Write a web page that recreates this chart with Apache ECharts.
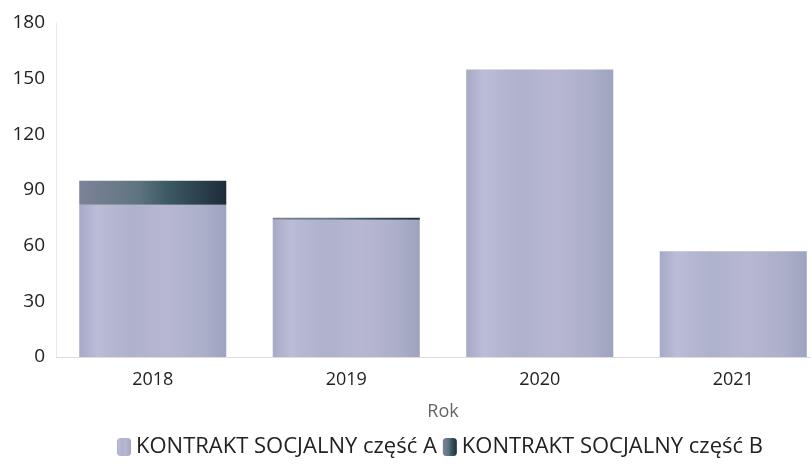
<!DOCTYPE html>
<html>
<head>
<meta charset="utf-8">
<script src="https://cdn.jsdelivr.net/npm/echarts@6/dist/echarts.min.js"></script>
<style>
  html, body { margin: 0; padding: 0; background: #fff; }
  #chart { width: 811px; height: 470px; }
</style>
</head>
<body>
<div id="chart"></div>
<script>
// dane z wykresu
var years = ['2018', '2019', '2020', '2021'];
var partA = [82, 74, 155, 57];
var partB = [13, 1, 0, 0];
var yTicks = { min: 0, max: 180, interval: 30 };

var chart = echarts.init(document.getElementById('chart'));

// pasek A - jasny lawendowy, lekko pasiasty
var colorA = new echarts.graphic.LinearGradient(0, 0, 1, 0, [
    { offset: 0, color: '#a7aac6' },
    { offset: 0.12, color: '#bbbcd7' },
    { offset: 0.35, color: '#aeb2cb' },
    { offset: 0.6, color: '#b8b7d2' },
    { offset: 0.85, color: '#abafc8' },
    { offset: 1, color: '#9ea3bf' }
]);
// pasek B - ciemny morski
var colorB = new echarts.graphic.LinearGradient(0, 0, 1, 0, [
    { offset: 0, color: '#7d8398' },
    { offset: 0.4, color: '#5f7480' },
    { offset: 0.6, color: '#3c5a64' },
    { offset: 1, color: '#1f2b3a' }
]);

var option = {
    animation: false,
    grid: { left: 56, width: 774, top: 23, bottom: 113, outerBoundsMode: 'none' },
    legend: {
        top: 431,
        left: 112,
        itemWidth: 14,
        itemHeight: 18,
        itemGap: 6,
        textStyle: { fontSize: 22, color: '#222', fontFamily: 'Open Sans' },
        data: ['KONTRAKT SOCJALNY część A', 'KONTRAKT SOCJALNY część B']
    },
    xAxis: {
        type: 'category',
        data: years,
        name: 'Rok',
        nameLocation: 'middle',
        nameGap: 46,
        nameTextStyle: { fontSize: 18, color: '#666', fontFamily: 'Open Sans' },
        axisLine: { lineStyle: { color: '#dcdcdc' } },
        axisTick: { show: false },
        axisLabel: { fontSize: 18, color: '#222', margin: 14, fontFamily: 'Open Sans' }
    },
    yAxis: {
        type: 'value',
        min: yTicks.min,
        max: yTicks.max,
        interval: yTicks.interval,
        axisLine: { show: true, lineStyle: { color: '#e8e8e8' } },
        axisTick: { show: false },
        splitLine: { show: false },
        axisLabel: { fontSize: 19, color: '#222', margin: 11, fontFamily: 'Open Sans' }
    },
    series: [{
        name: 'KONTRAKT SOCJALNY część A',
        type: 'bar',
        stack: 'k',
        barWidth: '76%',
        itemStyle: { color: colorA },
        data: partA
    }, {
        name: 'KONTRAKT SOCJALNY część B',
        type: 'bar',
        stack: 'k',
        barWidth: '76%',
        itemStyle: { color: colorB },
        data: partB
    }]
};
chart.setOption(option);
</script>
</body>
</html>
